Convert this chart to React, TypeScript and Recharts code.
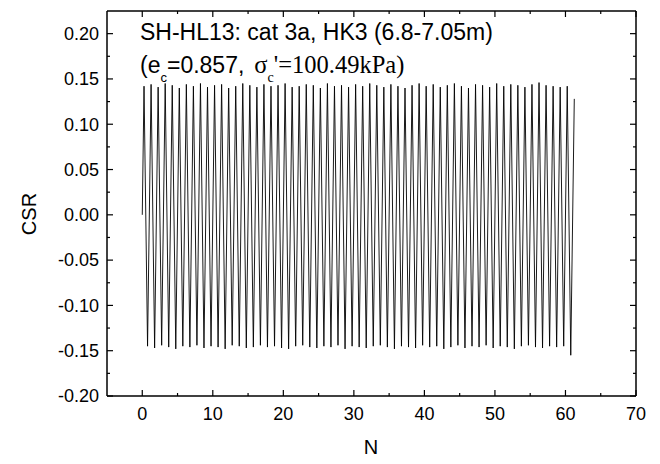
import { LineChart, Line, XAxis, YAxis } from 'recharts';

// CSR at the top of each loading cycle (N = k + 0.25)
const peaks = [
  0.142, 0.144, 0.141, 0.145, 0.143, 0.140, 0.144, 0.142, 0.145, 0.141,
  0.143, 0.144, 0.140, 0.142, 0.145, 0.143, 0.141, 0.144, 0.142, 0.143,
  0.145, 0.141, 0.142, 0.144, 0.143, 0.140, 0.145, 0.142, 0.143, 0.141,
  0.144, 0.142, 0.145, 0.143, 0.141, 0.144, 0.142, 0.140, 0.143, 0.145,
  0.142, 0.144, 0.141, 0.143, 0.145, 0.142, 0.140, 0.144, 0.143, 0.141,
  0.145, 0.142, 0.144, 0.143, 0.141, 0.144, 0.146, 0.143, 0.142, 0.141,
  0.142, 0.128,
];

// CSR at the bottom of each cycle (N = k + 0.75)
const troughs = [
  -0.145, -0.147, -0.144, -0.146, -0.148, -0.145, -0.146, -0.144, -0.147, -0.145,
  -0.146, -0.148, -0.144, -0.145, -0.147, -0.146, -0.144, -0.146, -0.145, -0.147,
  -0.148, -0.145, -0.144, -0.146, -0.147, -0.145, -0.146, -0.144, -0.148, -0.145,
  -0.146, -0.147, -0.145, -0.144, -0.146, -0.148, -0.145, -0.146, -0.147, -0.144,
  -0.146, -0.145, -0.148, -0.146, -0.144, -0.147, -0.145, -0.146, -0.144, -0.147,
  -0.145, -0.146, -0.148, -0.145, -0.144, -0.146, -0.147, -0.145, -0.146, -0.145,
  -0.155,
];

const xTicks = [0, 5, 10, 15, 20, 25, 30, 35, 40, 45, 50, 55, 60, 65, 70];
const xMajor = [0, 10, 20, 30, 40, 50, 60, 70];
const yTicks = [
  -0.2, -0.175, -0.15, -0.125, -0.1, -0.075, -0.05, -0.025, 0,
  0.025, 0.05, 0.075, 0.1, 0.125, 0.15, 0.175, 0.2,
];
const yMajor = [-0.2, -0.15, -0.1, -0.05, 0, 0.05, 0.1, 0.15, 0.2];

const data: { n: number; csr: number }[] = [{ n: 0, csr: 0 }];
peaks.forEach((p, k) => {
  data.push({ n: k + 0.25, csr: p });
  if (k < troughs.length) data.push({ n: k + 0.75, csr: troughs[k] });
});

const font = '"Liberation Sans", Arial, sans-serif';
const serif = '"Liberation Serif", "Times New Roman", serif';
const isMajorY = (v: number) => yMajor.some((m) => Math.abs(m - v) < 1e-6);

function BottomTick({ x, y, payload }: any) {
  const major = xMajor.includes(payload.value);
  return (
    <g>
      <line x1={x} y1={y} x2={x} y2={y - (major ? 6 : 3)} stroke="#000" strokeWidth={1.2} />
      {major && (
        <text x={x} y={y + 24} textAnchor="middle" fontSize={18} fontFamily={font} fill="#000">
          {payload.value}
        </text>
      )}
    </g>
  );
}

function TopTick({ x, y, payload }: any) {
  const major = xMajor.includes(payload.value);
  return <line x1={x} y1={y} x2={x} y2={y + (major ? 6 : 3)} stroke="#000" strokeWidth={1.2} />;
}

function LeftTick({ x, y, payload }: any) {
  const major = isMajorY(payload.value);
  return (
    <g>
      <line x1={x} y1={y} x2={x + (major ? 6 : 3)} y2={y} stroke="#000" strokeWidth={1.2} />
      {major && (
        <text x={x - 8} y={y} dy="0.35em" textAnchor="end" fontSize={18} fontFamily={font} fill="#000">
          {payload.value.toFixed(2)}
        </text>
      )}
    </g>
  );
}

function RightTick({ x, y, payload }: any) {
  const major = isMajorY(payload.value);
  return <line x1={x} y1={y} x2={x - (major ? 6 : 3)} y2={y} stroke="#000" strokeWidth={1.2} />;
}

export default function App() {
  const axisLine = { stroke: '#000', strokeWidth: 1.5 };
  return (
    <div style={{ position: 'absolute', left: 0, top: 0, width: 660, height: 464, background: '#fff' }}>
      <LineChart width={660} height={464} data={data} margin={{ top: 10, right: 23, bottom: 38, left: 47 }}>
        <XAxis
          xAxisId="b"
          dataKey="n"
          type="number"
          domain={[-5, 70]}
          ticks={xTicks}
          interval={0}
          height={30}
          tickSize={0}
          tickMargin={0}
          tickLine={false}
          axisLine={axisLine}
          tick={BottomTick}
          allowDataOverflow
        />
        <XAxis
          xAxisId="t"
          orientation="top"
          dataKey="n"
          type="number"
          domain={[-5, 70]}
          ticks={xTicks}
          interval={0}
          height={1}
          tickSize={0}
          tickMargin={0}
          tickLine={false}
          axisLine={axisLine}
          tick={TopTick}
          allowDataOverflow
        />
        <YAxis
          yAxisId="l"
          type="number"
          domain={[-0.2, 0.225]}
          ticks={yTicks}
          interval={0}
          width={60}
          tickSize={0}
          tickMargin={0}
          tickLine={false}
          axisLine={axisLine}
          tick={LeftTick}
          allowDataOverflow
        />
        <YAxis
          yAxisId="r"
          orientation="right"
          type="number"
          domain={[-0.2, 0.225]}
          ticks={yTicks}
          interval={0}
          width={1}
          tickSize={0}
          tickMargin={0}
          tickLine={false}
          axisLine={axisLine}
          tick={RightTick}
          allowDataOverflow
        />
        <Line
          xAxisId="b"
          yAxisId="l"
          type="linear"
          dataKey="csr"
          stroke="#000"
          strokeWidth={0.9}
          dot={false}
          isAnimationActive={false}
        />
        {/* invisible copy so the mirrored top/right axes are drawn */}
        <Line
          xAxisId="t"
          yAxisId="r"
          type="linear"
          dataKey="csr"
          stroke="none"
          dot={false}
          legendType="none"
          isAnimationActive={false}
        />
      </LineChart>
      <svg width={660} height={464} style={{ position: 'absolute', left: 0, top: 0, pointerEvents: 'none' }}>
        <text x={140} y={40} style={{ fontFamily: font, fontSize: 23 }} fill="#000">
          SH-HL13: cat 3a, HK3 (6.8-7.05m)
        </text>
        <text x={140} y={73} fill="#000">
          <tspan style={{ fontFamily: font, fontSize: 23 }}>(e</tspan>
          <tspan style={{ fontFamily: font, fontSize: 13 }} dy={9}>c</tspan>
          <tspan style={{ fontFamily: font, fontSize: 23 }} dy={-9}>=0.857,</tspan>
          <tspan style={{ fontFamily: serif, fontSize: 24.5 }} dx={10}>σ</tspan>
          <tspan style={{ fontFamily: serif, fontSize: 14 }} dy={9}>c</tspan>
          <tspan style={{ fontFamily: serif, fontSize: 24.5 }} dy={-9}>'=100.49kPa)</tspan>
        </text>
        <text
          x={36}
          y={214}
          transform="rotate(-90 36 214)"
          textAnchor="middle"
          style={{ fontFamily: font, fontSize: 20 }}
          fill="#000"
        >
          CSR
        </text>
        <text x={371} y={454} textAnchor="middle" style={{ fontFamily: font, fontSize: 20 }} fill="#000">
          N
        </text>
      </svg>
    </div>
  );
}
